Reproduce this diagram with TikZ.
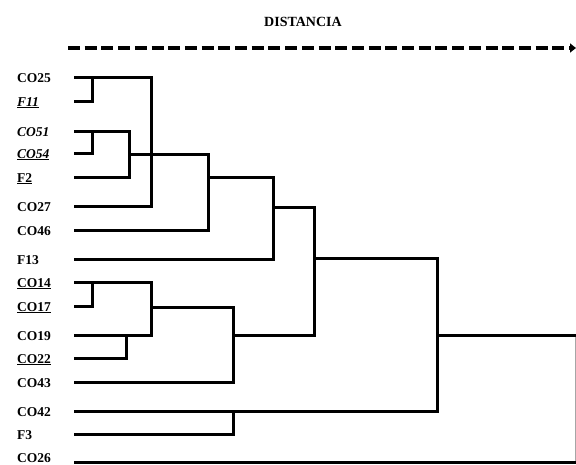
\documentclass[tikz,border=0pt]{standalone}
\usepackage{fontspec}
\setmainfont{Liberation Serif}
\usetikzlibrary{arrows.meta}
\begin{document}
\begin{tikzpicture}[x=1pt,y=-1pt,
  lab/.style={anchor=base west,inner sep=0pt,font=\fontsize{13.5}{15}\selectfont\bfseries},
  dend/.style={line width=3pt,line cap=butt,line join=miter},
  edge/.style={line width=1pt,black!35},
  axis/.style={line width=4pt,dash pattern=on 12pt off 4.7pt,-{Triangle[length=6pt,width=9pt]}}]
\useasboundingbox (0,0) rectangle (576,464);
% title and axis
\node[anchor=base,inner sep=0pt,font=\fontsize{14}{16}\selectfont\bfseries] (title) at (303,26) {DISTANCIA};
\coordinate (axs) at (68,48);
\coordinate (axe) at (576,48);
\draw[axis] (axs) -- (axe);
% labels
\node[lab] (n1) at (17,82) {CO25};
\node[lab] (n2) at (17,106) {\underline{\itshape F11}};
\node[lab] (n3) at (17,136) {\itshape CO51};
\node[lab] (n4) at (17,158) {\underline{\itshape CO54}};
\node[lab] (n5) at (17,182) {\underline{F2}};
\node[lab] (n6) at (17,211) {CO27};
\node[lab] (n7) at (17,235) {CO46};
\node[lab] (n8) at (17,264) {F13};
\node[lab] (n9) at (17,287) {\underline{CO14}};
\node[lab] (n10) at (17,311) {\underline{CO17}};
\node[lab] (n11) at (17,340) {CO19};
\node[lab] (n12) at (17,363) {\underline{CO22}};
\node[lab] (n13) at (17,387) {CO43};
\node[lab] (n14) at (17,416) {CO42};
\node[lab] (n15) at (17,439) {F3};
\node[lab] (n16) at (17,462) {CO26};
% leaf start points
\coordinate (l1) at (74,77);
\coordinate (l2) at (74,101);
\coordinate (l3) at (74,131);
\coordinate (l4) at (74,153);
\coordinate (l5) at (74,177);
\coordinate (l6) at (74,206);
\coordinate (l7) at (74,230);
\coordinate (l8) at (74,259);
\coordinate (l9) at (74,282);
\coordinate (l10) at (74,306);
\coordinate (l11) at (74,335);
\coordinate (l12) at (74,358);
\coordinate (l13) at (74,382);
\coordinate (l14) at (74,411);
\coordinate (l15) at (74,434);
\coordinate (l16) at (74,462);
% merges
\draw[dend] (l1) -- (151,77) -- (151,206) -- (l6);
\draw[dend] (l2) -- (92,101) -- (92,77);
\draw[dend] (l3) -- (129,131) -- (129,177) -- (l5);
\draw[dend] (l4) -- (92,153) -- (92,131);
\draw[dend] (129,154) -- (208,154) -- (208,230) -- (l7);
\draw[dend] (208,177) -- (273,177) -- (273,259) -- (l8);
\draw[dend] (273,207) -- (314,207) -- (314,335) -- (233,335);
\draw[dend] (314,258) -- (437,258) -- (437,411) -- (l14);
\draw[dend] (437,335) -- (576,335);
\draw[edge] (575.5,336.5) -- (575.5,461);
\draw[dend] (l16) -- (576,462);
\draw[dend] (l9) -- (151,282) -- (151,335) -- (l11);
\draw[dend] (l10) -- (92,306) -- (92,282);
\draw[dend] (l12) -- (126,358) -- (126,335);
\draw[dend] (151,307) -- (233,307) -- (233,382) -- (l13);
\draw[dend] (l15) -- (233,434) -- (233,411);
\end{tikzpicture}
\end{document}
